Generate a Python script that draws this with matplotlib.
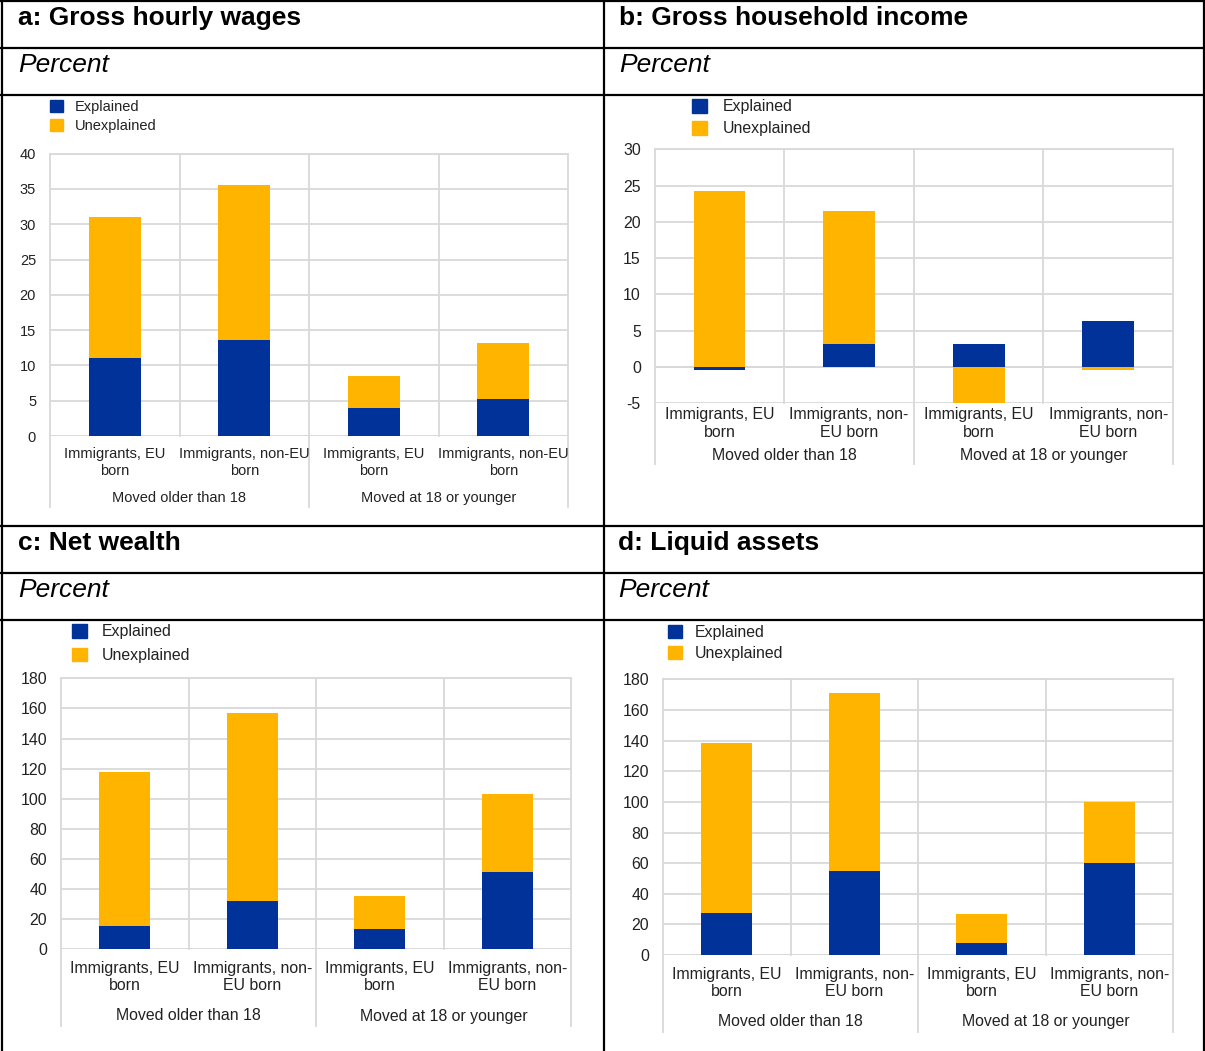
import numpy as np
import matplotlib.pyplot as plt
from matplotlib.lines import Line2D
from matplotlib.patches import Patch
import matplotlib.transforms as mtransforms

plt.rcParams['font.family'] = ['Liberation Sans', 'DejaVu Sans']
plt.rcParams['axes.unicode_minus'] = False

# data
categories_a = ["Immigrants, EU\nborn", "Immigrants, non-EU\nborn",
                "Immigrants, EU\nborn", "Immigrants, non-EU\nborn"]
categories = ["Immigrants, EU\nborn", "Immigrants, non-\nEU born",
              "Immigrants, EU\nborn", "Immigrants, non-\nEU born"]
groups = ["Moved older than 18", "Moved at 18 or younger"]

wages_explained = [11.0, 13.6, 3.9, 5.2]
wages_unexplained = [20.1, 21.9, 4.6, 8.0]

income_explained = [-0.45, 3.2, 3.2, 6.4]
income_unexplained = [24.2, 18.3, -4.9, -0.35]

wealth_explained = [15.2, 32.3, 13.2, 51.6]
wealth_unexplained = [102.3, 124.5, 22.3, 51.6]

liquid_explained = [27.2, 54.7, 7.6, 60.1]
liquid_unexplained = [111.3, 116.4, 19.0, 39.7]

BLUE = '#003299'
YELLOW = '#FFB400'
GRID = '#d9d9d9'

W, H = 1205, 1051
fig = plt.figure(figsize=(W / 100, H / 100), dpi=100)


def fx(px):
    return px / W


def fy(py):
    return 1 - py / H


# panel frame lines
for y in [1, 47.5, 95, 525.5, 572.5, 620]:
    fig.add_artist(Line2D([fx(1), fx(1204)], [fy(y), fy(y)], color='black', lw=1.6))
for x in [2, 603.5, 1203.5]:
    fig.add_artist(Line2D([fx(x), fx(x)], [fy(0), fy(H)], color='black', lw=1.6))

# headers
headers = [("a: Gross hourly wages", 18, 18), ("b: Gross household income", 619, 18),
           ("c: Net wealth", 18, 543), ("d: Liquid assets", 618, 543)]
for txt, x, y in headers:
    fig.text(fx(x), fy(y), txt, fontsize=19, fontweight='bold', va='center', ha='left')
    fig.text(fx(x), fy(y + 47), "Percent", fontsize=19, style='italic', va='center', ha='left')


def panel(box, exp, unexp, ylim, step, labels, fs, label_y, leg):
    left, right, top, bottom = box
    ax = fig.add_axes([fx(left), fy(bottom), (right - left) / W, (bottom - top) / H])
    exp = np.array(exp)
    unexp = np.array(unexp)
    x = np.arange(len(exp))
    base = np.where(np.sign(exp) == np.sign(unexp), exp, 0)
    ax.bar(x, exp, width=0.4, color=BLUE, zorder=3)
    ax.bar(x, unexp, width=0.4, bottom=base, color=YELLOW, zorder=3)

    ax.set_xlim(-0.5, 3.5)
    ax.set_ylim(*ylim)
    ax.set_yticks(np.arange(ylim[0], ylim[1] + 1, step))
    ax.tick_params(axis='y', length=0, pad=10, labelsize=fs, colors='#222222')
    ax.set_xticks([])
    ax.grid(axis='y', color=GRID, lw=1.3, zorder=0)
    for s in ax.spines.values():
        s.set_visible(False)

    # pixel y -> axes fraction
    def ay(py):
        return (bottom - py) / (bottom - top)

    trans = mtransforms.blended_transform_factory(ax.transData, ax.transAxes)
    for xv in [-0.5, 0.5, 1.5, 2.5, 3.5]:
        y0 = ay(label_y[3]) if xv in (-0.5, 1.5, 3.5) else 0
        ax.add_artist(Line2D([xv, xv], [y0, 1], color=GRID, lw=1.3,
                             transform=trans, clip_on=False, zorder=1))
    ax.add_artist(Line2D([-0.5, 3.5], [1, 1], color=GRID, lw=1.3,
                         transform=trans, clip_on=False, zorder=1))
    ax.axhline(0, color=GRID, lw=1.3, zorder=2)

    ymid = (label_y[0] + label_y[1]) / 2
    for xi, lab in zip(x, labels):
        ax.text(xi, ay(ymid), lab, transform=trans, ha='center', va='center',
                fontsize=fs, linespacing=1.2, color='#222222')
    for gx, g in zip([0.5, 2.5], groups):
        ax.text(gx, ay(label_y[2]), g, transform=trans, ha='center', va='center',
                fontsize=fs, color='#222222')

    lx, ly, hl, tp, ls = leg
    fig.legend([Patch(color=BLUE), Patch(color=YELLOW)], ["Explained", "Unexplained"],
               loc='upper left', bbox_to_anchor=(fx(lx), fy(ly)), frameon=False,
               fontsize=fs, handlelength=hl, handleheight=hl, handletextpad=tp,
               labelspacing=ls, borderpad=0, borderaxespad=0, labelcolor='#222222')
    return ax


panel((50, 568, 153.7, 436), wages_explained, wages_unexplained, (0, 40), 5,
      categories_a, 10.5, (454, 471, 498, 507), (50, 99.5, 0.9, 0.8, 0.34))
panel((654.7, 1173, 149.3, 403.3), income_explained, income_unexplained, (-5, 30), 5,
      categories, 11.4, (414.3, 432.7, 455, 464), (692, 99, 0.95, 1.0, 0.42))
panel((61, 571, 678.4, 949.2), wealth_explained, wealth_unexplained, (0, 180), 20,
      categories, 11.4, (968, 986, 1016, 1026), (72, 624, 0.95, 0.9, 0.54))
panel((663, 1173, 679.4, 955), liquid_explained, liquid_unexplained, (0, 180), 20,
      categories, 11.4, (973.8, 992.6, 1021.7, 1032), (668, 625, 0.9, 0.8, 0.39))

fig.savefig("out.png", dpi=100)
